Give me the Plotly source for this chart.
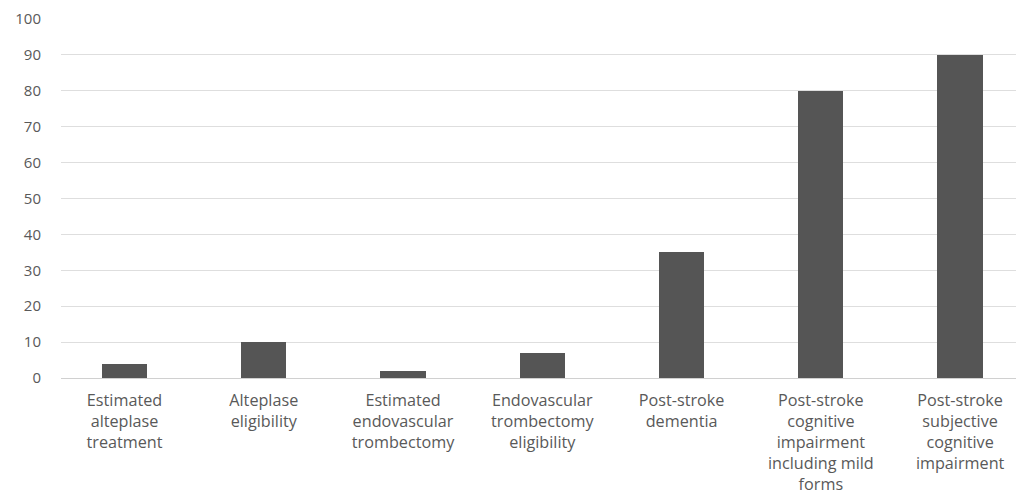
import plotly.graph_objects as go

categories = [
    "Estimated<br>alteplase<br>treatment",
    "Alteplase<br>eligibility",
    "Estimated<br>endovascular<br>trombectomy",
    "Endovascular<br>trombectomy<br>eligibility",
    "Post-stroke<br>dementia",
    "Post-stroke<br>cognitive<br>impairment<br>including mild<br>forms",
    "Post-stroke<br>subjective<br>cognitive<br>impairment",
]
values = [4, 10, 2, 7, 35, 80, 90]
y_ticks = list(range(0, 101, 10))

fig = go.Figure(go.Bar(
    x=list(range(len(categories))), y=values,
    marker=dict(color="#555555", line=dict(width=0)),
    width=0.325,
))

fig.update_layout(
    width=1024, height=500,
    margin=dict(l=53, r=12, t=10, b=130),
    plot_bgcolor="white", paper_bgcolor="white",
    font=dict(family="Open Sans, Liberation Sans, sans-serif", size=15, color="#595959"),
    showlegend=False,
    bargap=0,
)
fig.update_xaxes(
    tickmode="array", tickvals=list(range(len(categories))), ticktext=categories,
    range=[-0.456, 6.43], showgrid=False, zeroline=False, showline=False,
    ticks="", tickangle=0, tickfont=dict(size=16.2), ticklabelstandoff=11,
    automargin=False,
)
fig.update_yaxes(
    range=[0, 100.25], tickvals=y_ticks, showgrid=True, gridcolor="#dedede", gridwidth=1,
    zeroline=True, zerolinecolor="#d0d0d0", zerolinewidth=1,
    showline=False, ticks="", ticklabelstandoff=19, tickfont=dict(size=15),
    ticklabeloverflow="allow", automargin=False,
)

fig.write_html("out.html")
